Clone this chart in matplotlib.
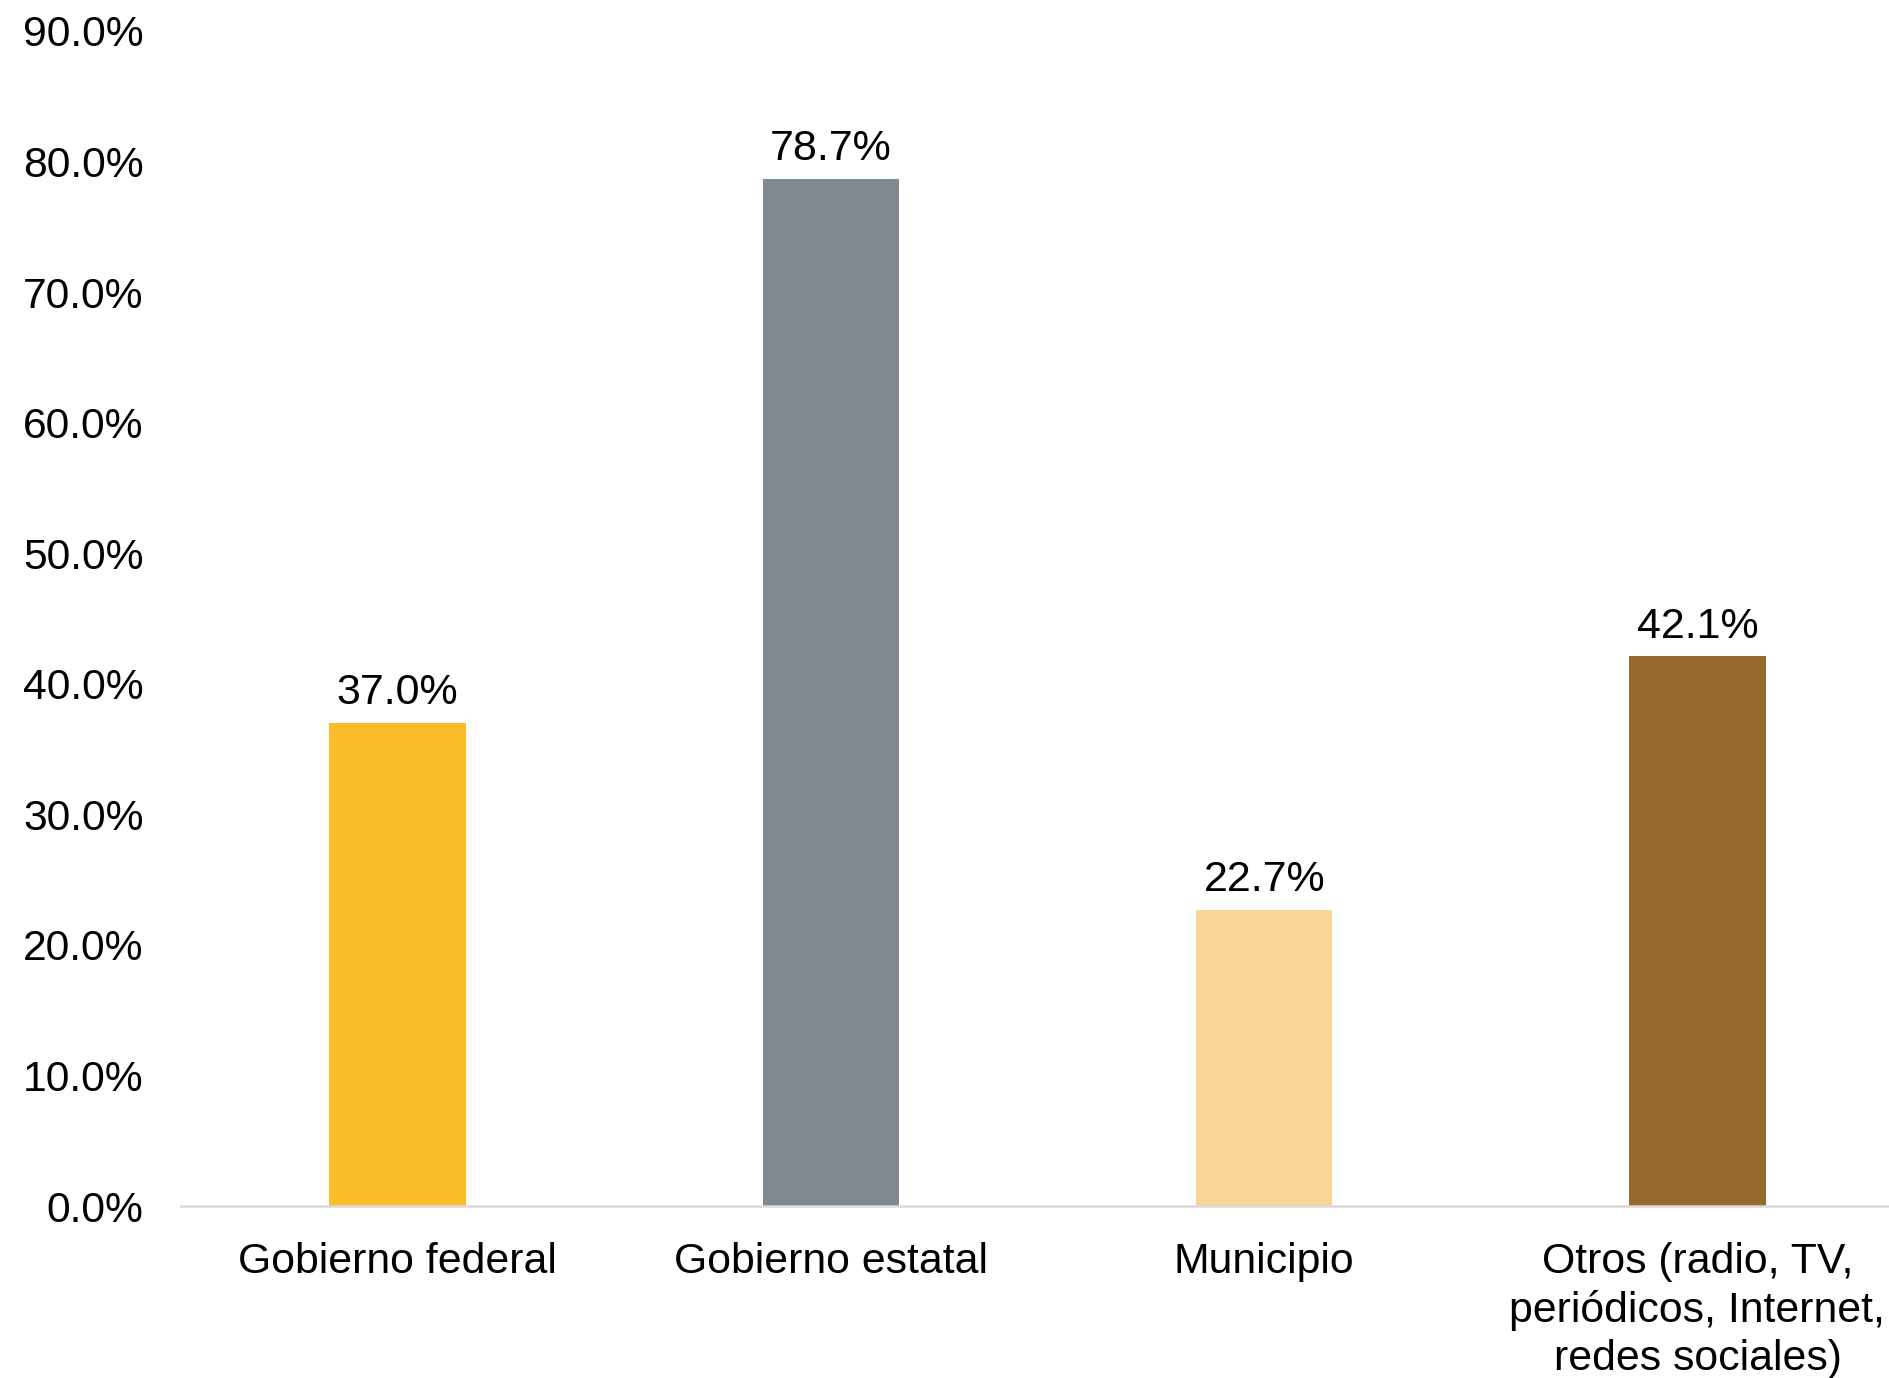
import matplotlib.pyplot as plt
from matplotlib.ticker import FuncFormatter

plt.rcParams['font.family'] = ['Liberation Sans', 'DejaVu Sans']

categories = ['Gobierno federal', 'Gobierno estatal', 'Municipio',
              'Otros (radio, TV,\nperiódicos, Internet,\nredes sociales)']
values = [37.0, 78.7, 22.7, 42.1]
colors = ['#FBBC2A', '#7F888E', '#F9D597', '#96692F']

fig = plt.figure(figsize=(18.89, 13.78), dpi=100)
ax = fig.add_axes([181 / 1889, 1 - 1206 / 1378, 1 - 181 / 1889, (1206 - 31) / 1378])

x = range(len(categories))
bars = ax.bar(x, values, width=0.315, color=colors)
ax.bar_label(bars, labels=[f'{v:.1f}%' for v in values], padding=7, fontsize=31)

ax.set_xlim(-0.5, 3.442)
ax.set_ylim(0, 90)
ax.set_yticks(range(0, 91, 10))
ax.yaxis.set_major_formatter(FuncFormatter(lambda v, p: f'{v:.1f}%'))
ax.set_xticks(list(x))
ax.set_xticklabels(categories, linespacing=1.25)

ax.tick_params(axis='y', length=0, pad=27, labelsize=30.7)
ax.tick_params(axis='x', length=0, pad=26, labelsize=30.8)

for s in ['top', 'right', 'left']:
    ax.spines[s].set_visible(False)
ax.spines['bottom'].set_color('#D9D9D9')
ax.spines['bottom'].set_linewidth(1.8)

fig.savefig('out.png', dpi=100)
